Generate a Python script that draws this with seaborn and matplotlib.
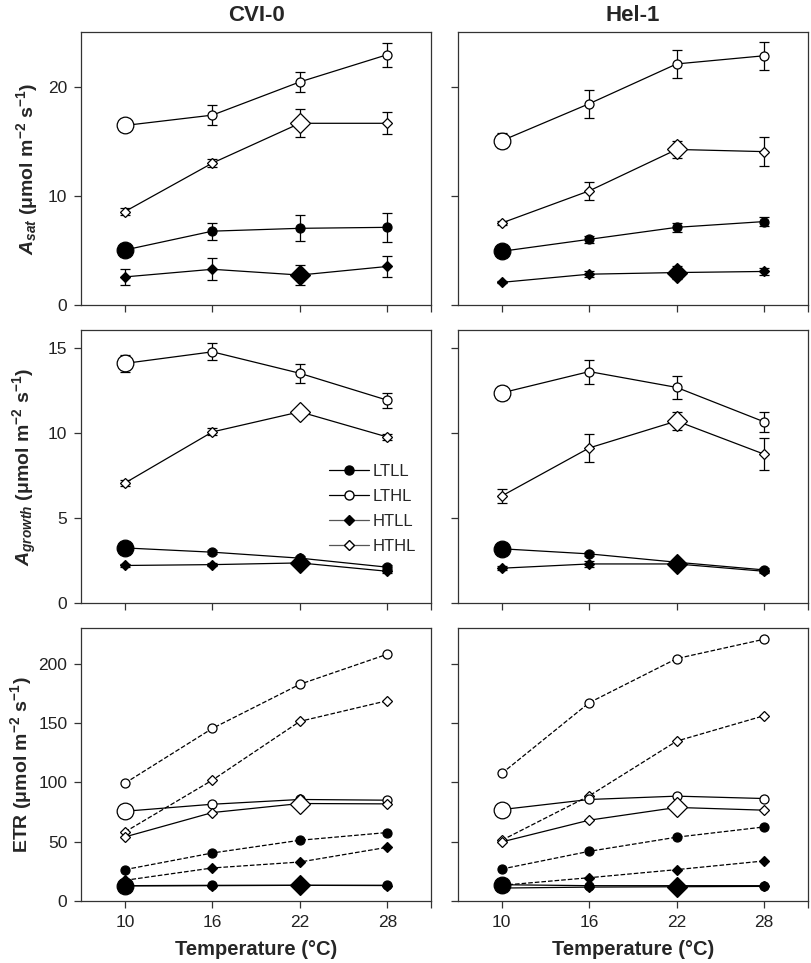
import matplotlib
matplotlib.use("Agg")
import matplotlib.pyplot as plt
from matplotlib.lines import Line2D
import seaborn as sns

# temperatures (deg C)
temps = [10, 16, 22, 28]
accessions = ["CVI-0", "Hel-1"]
treatments = ["LTLL", "LTHL", "HTLL", "HTHL"]
# growth temperature of each treatment (drawn with a larger marker)
growth_temp = {"LT": 10, "HT": 22}

# --- A_sat ---
asat_cvi = {"LTLL": [5.07, 6.8, 7.06, 7.15],
            "LTHL": [16.5, 17.45, 20.5, 23.0],
            "HTLL": [2.6, 3.3, 2.77, 3.56],
            "HTHL": [8.6, 13.05, 16.7, 16.7]}
asat_cvi_err = {"LTLL": [0.3, 0.77, 1.2, 1.3],
                "LTHL": [0.2, 0.9, 0.9, 1.1],
                "HTLL": [0.7, 1.0, 0.9, 0.95],
                "HTHL": [0.3, 0.4, 1.3, 1.0]}
asat_hel = {"LTLL": [4.95, 6.05, 7.15, 7.68],
            "LTHL": [15.1, 18.5, 22.15, 22.9],
            "HTLL": [2.1, 2.85, 3.0, 3.1],
            "HTHL": [7.55, 10.5, 14.3, 14.1]}
asat_hel_err = {"LTLL": [0.3, 0.3, 0.4, 0.4],
                "LTHL": [0.7, 1.3, 1.25, 1.3],
                "HTLL": [0.1, 0.3, 0.6, 0.3],
                "HTHL": [0.2, 0.8, 0.8, 1.35]}

# --- A_growth ---
agrowth_cvi = {"LTLL": [3.25, 3.0, 2.65, 2.12],
               "LTHL": [14.08, 14.76, 13.5, 11.92],
               "HTLL": [2.22, 2.27, 2.37, 1.88],
               "HTHL": [7.06, 10.06, 11.24, 9.76]}
agrowth_cvi_err = {"LTLL": [0.1, 0.1, 0.1, 0.1],
                   "LTHL": [0.5, 0.5, 0.57, 0.45],
                   "HTLL": [0.1, 0.1, 0.1, 0.1],
                   "HTHL": [0.2, 0.2, 0.2, 0.2]}
agrowth_hel = {"LTLL": [3.2, 2.9, 2.41, 1.96],
               "LTHL": [12.35, 13.6, 12.67, 10.65],
               "HTLL": [2.06, 2.31, 2.31, 1.88],
               "HTHL": [6.3, 9.12, 10.7, 8.75]}
agrowth_hel_err = {"LTLL": [0.1, 0.1, 0.1, 0.1],
                   "LTHL": [0.4, 0.7, 0.65, 0.6],
                   "HTLL": [0.1, 0.2, 0.1, 0.1],
                   "HTHL": [0.4, 0.8, 0.5, 0.93]}

# --- ETR (solid = growth conditions, dashed = second measurement set) ---
etr_cvi = {"LTLL": [13.2, 13.5, 13.5, 13.5],
           "LTHL": [75.8, 81.7, 85.7, 85.1],
           "HTLL": [13.0, 13.2, 13.5, 13.3],
           "HTHL": [54.2, 74.7, 82.3, 82.0]}
etr_cvi_dash = {"LTLL": [26.7, 40.7, 51.4, 57.9],
                "LTHL": [99.4, 145.5, 182.6, 207.9],
                "HTLL": [17.7, 28.1, 33.1, 45.5],
                "HTHL": [58.4, 102.0, 151.4, 168.8]}
etr_hel = {"LTLL": [14.0, 13.2, 13.2, 13.2],
           "LTHL": [77.2, 85.7, 88.5, 86.5],
           "HTLL": [11.2, 12.0, 12.3, 12.6],
           "HTHL": [50.0, 68.3, 79.0, 76.7]}
etr_hel_dash = {"LTLL": [27.2, 42.1, 54.0, 62.6],
                "LTHL": [107.6, 167.1, 204.2, 220.5],
                "HTLL": [13.5, 19.9, 26.7, 34.0],
                "HTHL": [51.4, 88.8, 134.8, 156.2]}

sns.set_style("ticks")
plt.rcParams["font.family"] = ["Liberation Sans", "DejaVu Sans"]
plt.rcParams["mathtext.fontset"] = "custom"
plt.rcParams["mathtext.it"] = "Liberation Sans:italic:bold"
plt.rcParams["mathtext.bf"] = "Liberation Sans:bold"
plt.rcParams["mathtext.rm"] = "Liberation Sans:bold"


def style(tr):
    marker = "o" if tr.startswith("LT") else "D"
    face = "black" if tr.endswith("LL") else "white"
    return marker, face


def draw(ax, data, err=None, ls="-", big=True):
    for tr in treatments:
        marker, face = style(tr)
        ms = 6.5 if marker == "o" else 5.5
        sns.lineplot(x=temps, y=data[tr], ax=ax, color="black", lw=0.9,
                     linestyle=ls, marker=marker, markersize=ms,
                     markerfacecolor=face, markeredgecolor="black",
                     markeredgewidth=0.9, zorder=3)
        if err is not None:
            ax.errorbar(temps, data[tr], yerr=err[tr], fmt="none",
                        ecolor="black", elinewidth=0.9, capsize=3.5,
                        capthick=0.9, zorder=2)
        if big:
            gt = growth_temp[tr[:2]]
            i = temps.index(gt)
            bms = 12 if marker == "o" else 10.5
            ax.plot([gt], [data[tr][i]], marker=marker, markersize=bms,
                    markerfacecolor=face, markeredgecolor="black",
                    markeredgewidth=0.9, linestyle="none", zorder=4)


fig, axes = plt.subplots(3, 2, figsize=(8.12, 9.63), dpi=100, sharey="row")
fig.subplots_adjust(left=0.1, right=0.995, bottom=0.064, top=0.967,
                    wspace=0.077, hspace=0.09)

panels = [
    [(asat_cvi, asat_cvi_err), (asat_hel, asat_hel_err)],
    [(agrowth_cvi, agrowth_cvi_err), (agrowth_hel, agrowth_hel_err)],
]
for r in range(2):
    for c in range(2):
        d, e = panels[r][c]
        draw(axes[r, c], d, e)

draw(axes[2, 0], etr_cvi_dash, ls="--", big=False)
draw(axes[2, 0], etr_cvi)
draw(axes[2, 1], etr_hel_dash, ls="--", big=False)
draw(axes[2, 1], etr_hel)

ylims = [(0, 25.1), (0, 16.05), (0, 230)]
yticks = [[0, 10, 20], [0, 5, 10, 15], [0, 50, 100, 150, 200]]
for r in range(3):
    for c in range(2):
        ax = axes[r, c]
        ax.set_xlim(7, 31)
        ax.set_ylim(*ylims[r])
        ax.set_yticks(yticks[r])
        ax.set_xticks([10, 16, 22, 28, 31])
        if r == 2:
            ax.set_xticklabels(["10", "16", "22", "28", ""])
            ax.set_xlabel("Temperature (°C)", fontsize=14.5,
                          fontweight="bold", labelpad=7)
        else:
            ax.set_xticklabels([])
        if c == 1:
            ax.tick_params(labelleft=False)
        ax.tick_params(direction="out", length=5, width=0.9, labelsize=12.5,
                       pad=5, color="#333333", labelcolor="#222222")
        for sp in ax.spines.values():
            sp.set_visible(True)
            sp.set_linewidth(0.9)
            sp.set_color("#333333")

axes[0, 0].set_title(accessions[0], fontsize=16, fontweight="bold", pad=8)
axes[0, 1].set_title(accessions[1], fontsize=16, fontweight="bold", pad=8)

unit = r" (μmol m$^{\mathbf{-2}}$ s$^{\mathbf{-1}}$)"
axes[0, 0].set_ylabel(r"$\mathit{A_{sat}}$" + unit, fontsize=14,
                      fontweight="bold", labelpad=6)
axes[1, 0].set_ylabel(r"$\mathit{A_{growth}}$" + unit, fontsize=14,
                      fontweight="bold", labelpad=6)
axes[2, 0].set_ylabel("ETR" + unit, fontsize=14, fontweight="bold",
                      labelpad=3)

# legend
handles = []
for tr in treatments:
    marker, face = style(tr)
    lc = "black" if tr.startswith("LT") else "#555555"
    handles.append(Line2D([0], [0], color=lc, lw=0.9, marker=marker,
                          markersize=6.5 if marker == "o" else 5.5,
                          markerfacecolor=face, markeredgecolor="black"))
axes[1, 0].legend(handles, treatments, loc="center left",
                  bbox_to_anchor=(0.665, 0.345), frameon=False, fontsize=12,
                  handlelength=2.4, labelspacing=0.6, handletextpad=0.2)

plt.savefig("out.png", dpi=100)
plt.close()
